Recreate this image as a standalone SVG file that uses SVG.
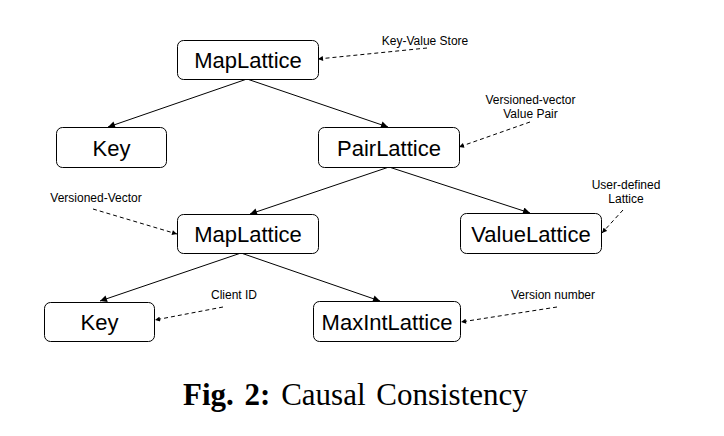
<svg xmlns="http://www.w3.org/2000/svg" width="724" height="436" viewBox="0 0 724 436">
<style>
.box{fill:#fff;stroke:#000;stroke-width:1}
.lbl{font-family:"Liberation Sans",Arial,sans-serif;font-size:22px;fill:#000;text-anchor:middle}
.note{font-family:"Liberation Sans",Arial,sans-serif;font-size:12px;fill:#000;text-anchor:middle}
.edge{stroke:#000;stroke-width:1;fill:none;marker-end:url(#arr)}
.dash{stroke:#000;stroke-width:1;fill:none;stroke-dasharray:4 3;marker-end:url(#arrs)}
.cap{font-family:"Liberation Serif","Times New Roman",serif;font-size:31px;fill:#000;word-spacing:3px}
</style>
<defs>
<marker id="arr" viewBox="0 0 10 10" refX="10" refY="5" markerWidth="9" markerHeight="7" markerUnits="userSpaceOnUse" orient="auto">
<path d="M0,0 L10,5 L0,10 z" fill="#000"/>
</marker>
<marker id="arrs" viewBox="0 0 10 10" refX="10" refY="5" markerWidth="6" markerHeight="5" markerUnits="userSpaceOnUse" orient="auto">
<path d="M0,0 L10,5 L0,10 z" fill="#000"/>
</marker>
</defs>
<rect width="724" height="436" fill="#fff"/>
<g id="connectors">
<line class="edge" x1="247" y1="79" x2="108" y2="127"/>
<line class="edge" x1="247" y1="79" x2="388" y2="127"/>
<line class="edge" x1="389" y1="167" x2="250" y2="214"/>
<line class="edge" x1="389" y1="167" x2="530" y2="213"/>
<line class="edge" x1="241" y1="253" x2="100" y2="301"/>
<line class="edge" x1="241" y1="253" x2="380" y2="301"/>
<line class="dash" x1="427" y1="48" x2="318" y2="59"/>
<line class="dash" x1="530" y1="122" x2="459" y2="147"/>
<line class="dash" x1="93" y1="209" x2="177" y2="234"/>
<line class="dash" x1="623" y1="210" x2="602" y2="233"/>
<line class="dash" x1="223" y1="307" x2="155" y2="320"/>
<line class="dash" x1="557" y1="307" x2="461" y2="322"/>
</g>
<g id="maplattice1">
<rect class="box" x="177.5" y="40.5" width="141" height="39" rx="6"/>
<text class="lbl" x="248" y="68">MapLattice</text>
</g>
<g id="key1">
<rect class="box" x="56.5" y="127.5" width="110" height="40" rx="6"/>
<text class="lbl" x="111.5" y="155.5">Key</text>
</g>
<g id="pairlattice">
<rect class="box" x="318.5" y="127.5" width="141" height="40" rx="6"/>
<text class="lbl" x="389" y="155.5">PairLattice</text>
</g>
<g id="maplattice2">
<rect class="box" x="177.5" y="214.5" width="141" height="39" rx="6"/>
<text class="lbl" x="248" y="242">MapLattice</text>
</g>
<g id="valuelattice">
<rect class="box" x="460.5" y="213.5" width="141" height="40" rx="6"/>
<text class="lbl" x="531" y="241.5">ValueLattice</text>
</g>
<g id="key2">
<rect class="box" x="44.5" y="302.5" width="110" height="39" rx="6"/>
<text class="lbl" x="99.5" y="330">Key</text>
</g>
<g id="maxintlattice">
<rect class="box" x="313.5" y="301.5" width="147" height="40" rx="6"/>
<text class="lbl" x="387" y="329.5">MaxIntLattice</text>
</g>
<g id="notes">
<text class="note" x="425" y="45">Key-Value Store</text>
<text class="note" x="530.5" y="104">Versioned-vector</text>
<text class="note" x="530.5" y="117.5">Value Pair</text>
<text class="note" x="96" y="202">Versioned-Vector</text>
<text class="note" x="626" y="189">User-defined</text>
<text class="note" x="626" y="203">Lattice</text>
<text class="note" x="234" y="299">Client ID</text>
<text class="note" x="553" y="299">Version number</text>
</g>
<text class="cap" x="183" y="405"><tspan font-weight="bold">Fig. 2:</tspan> Causal Consistency</text>
</svg>
